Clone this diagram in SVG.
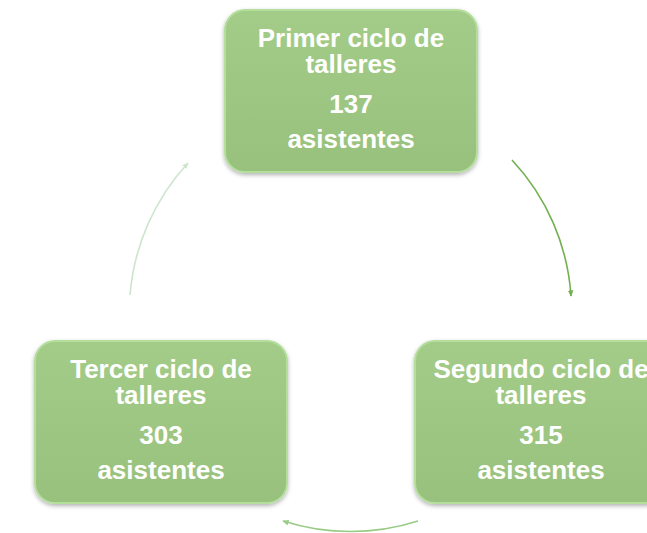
<svg xmlns="http://www.w3.org/2000/svg" width="647" height="533" viewBox="0 0 647 533">
<defs>
<style>
.box{fill:url(#g);stroke:#B3DE9C;stroke-width:2;filter:url(#sh)}
.t{font-family:"Liberation Sans",Arial,sans-serif;font-weight:bold;font-size:26px;fill:#ffffff;text-anchor:middle}
.c{fill:none;stroke-width:1.6}
</style>
<linearGradient id="g" x1="0" y1="0" x2="0" y2="1">
<stop offset="0" stop-color="#A3CC88"/>
<stop offset="1" stop-color="#98C17D"/>
</linearGradient>
<filter id="sh" x="-10%" y="-10%" width="120%" height="125%">
<feDropShadow dx="0" dy="2" stdDeviation="2" flood-color="#000" flood-opacity="0.3"/>
</filter>
<marker id="a1" viewBox="0 0 10 10" refX="8" refY="5" markerWidth="7" markerHeight="7" orient="auto" markerUnits="userSpaceOnUse">
<path d="M0,1 L9,5 L0,9 z" fill="#72B050"/>
</marker>
<marker id="a2" viewBox="0 0 10 10" refX="8" refY="5" markerWidth="7" markerHeight="7" orient="auto" markerUnits="userSpaceOnUse">
<path d="M0,1 L9,5 L0,9 z" fill="#9ACB86"/>
</marker>
<marker id="a3" viewBox="0 0 10 10" refX="8" refY="5" markerWidth="7" markerHeight="7" orient="auto" markerUnits="userSpaceOnUse">
<path d="M0,1 L9,5 L0,9 z" fill="#CDE5CD"/>
</marker>
</defs>
<rect width="647" height="533" fill="#ffffff"/>
<g id="connectors">
<path class="c" d="M512 160 A221 221 0 0 1 571 296" stroke="#72B050" marker-end="url(#a1)"/>
<path class="c" d="M418 521 A221 221 0 0 1 283 521" stroke="#9ACB86" marker-end="url(#a2)"/>
<path class="c" d="M130 295 A221 221 0 0 1 188 163" stroke="#CDE5CD" marker-end="url(#a3)"/>
</g>
<g id="n1">
<rect class="box" x="225" y="10" width="252" height="162" rx="20"/>
<text class="t" x="351" y="47">Primer ciclo de</text>
<text class="t" x="351" y="73">talleres</text>
<text class="t" x="351" y="113">137</text>
<text class="t" x="351" y="148">asistentes</text>
</g>
<g id="n2">
<rect class="box" x="415" y="341" width="252" height="162" rx="20"/>
<text class="t" x="541" y="378">Segundo ciclo de</text>
<text class="t" x="541" y="404">talleres</text>
<text class="t" x="541" y="444">315</text>
<text class="t" x="541" y="479">asistentes</text>
</g>
<g id="n3">
<rect class="box" x="35" y="341" width="252" height="162" rx="20"/>
<text class="t" x="161" y="378">Tercer ciclo de</text>
<text class="t" x="161" y="404">talleres</text>
<text class="t" x="161" y="444">303</text>
<text class="t" x="161" y="479">asistentes</text>
</g>
</svg>
